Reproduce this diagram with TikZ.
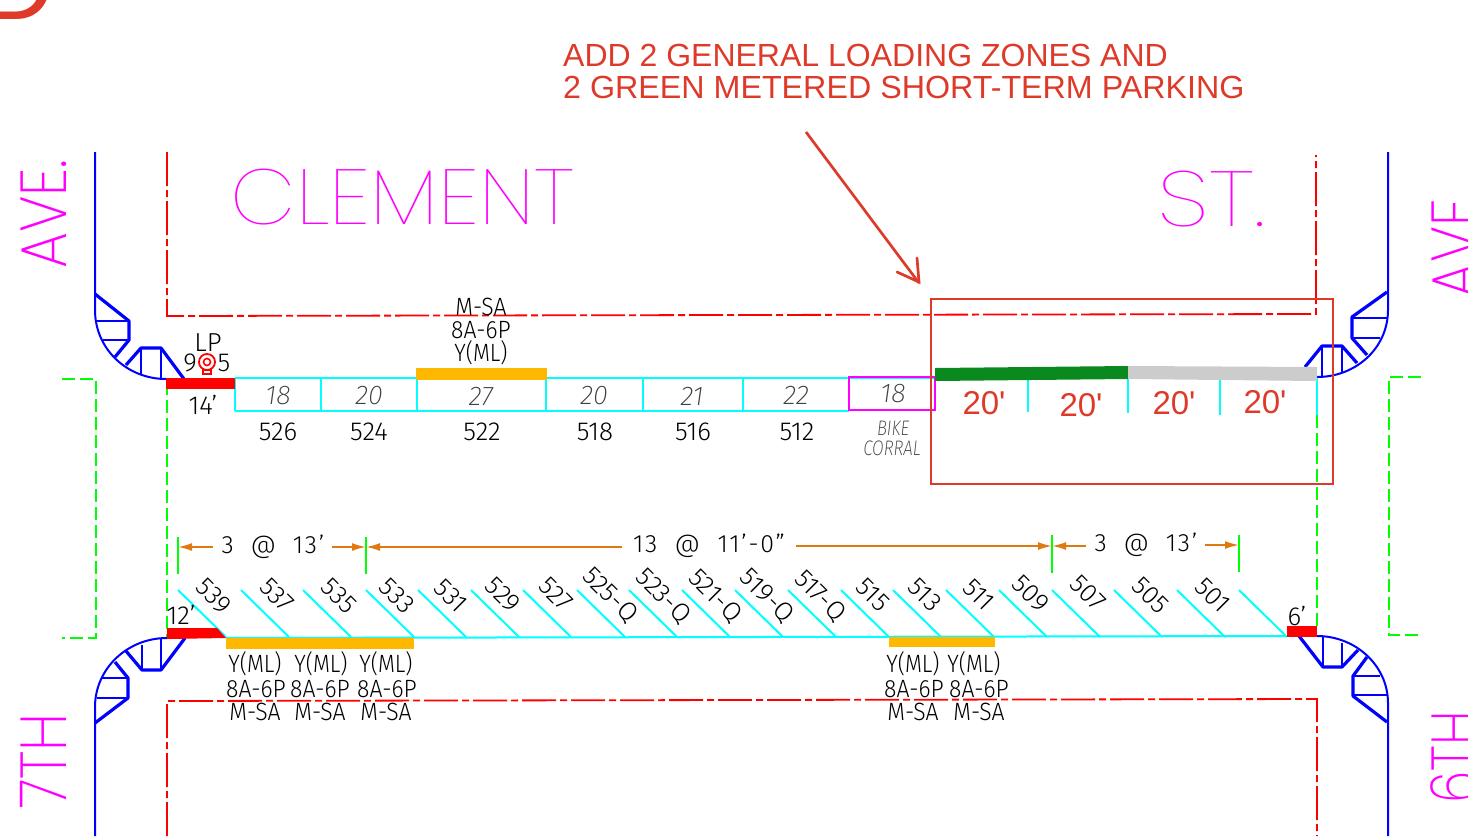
\documentclass[tikz,border=0pt]{standalone}
\usepackage{fontspec}
\usetikzlibrary{arrows.meta}
\setmainfont{Liberation Sans}
\newfontfamily\lenfont{Liberation Sans}
\newfontfamily\cadfont{Fira Sans Light}
\newfontfamily\handfont{Fira Sans ExtraLight}
\newfontfamily\streetfont{Poppins Thin}
\newfontfamily\avefont{Poppins ExtraLight}
\definecolor{annored}{HTML}{DE3A2A}
\definecolor{zoneyellow}{HTML}{FFB800}
\definecolor{zonegreen}{HTML}{0A8A1E}
\definecolor{zonegray}{HTML}{CCCCCC}
\definecolor{dimorange}{HTML}{DF7A10}
\definecolor{stallcyan}{HTML}{00FFFF}
\definecolor{streetpink}{HTML}{FF00FF}
\definecolor{kerbblue}{HTML}{0000FF}
\definecolor{lineredd}{HTML}{FF0000}
\definecolor{cuegreen}{HTML}{00FF00}
\tikzset{
	kerbline/.style={color=kerbblue, line width=2pt},
	rampthick/.style={color=kerbblue, line width=3.2pt, line join=round},
	rampthin/.style={color=kerbblue, line width=1.6pt},
	propline/.style={color=lineredd, line width=1.8pt, dash pattern=on 34pt off 4pt on 7pt off 4pt},
	cueline/.style={color=cuegreen, line width=1.8pt, dash pattern=on 13pt off 5pt},
	stallline/.style={color=stallcyan, line width=2pt},
	dimline/.style={color=dimorange, line width=1.8pt, -{Latex[length=14pt,width=8pt]}},
	dimtick/.style={color=cuegreen, line width=1.8pt},
	annotext/.style={color=annored, font=\fontsize{32}{32}\selectfont, inner sep=0pt},
	lentext/.style={color=annored, font=\lenfont\fontsize{33}{33}\selectfont, inner sep=0pt},
	annoline/.style={color=annored, line width=2.7pt},
	cadtext/.style={color=black, font=\cadfont\fontsize{26}{26}\selectfont, inner sep=0pt},
	signtext/.style={color=black, font=\cadfont\fontsize{25}{25}\selectfont, inner sep=0pt},
	dimtext/.style={color=black, font=\cadfont\addfontfeature{LetterSpace=7}\fontsize{25}{25}\selectfont, inner sep=0pt},
	sizetext/.style={color=black!75, font=\handfont\itshape\fontsize{27}{27}\selectfont, inner sep=0pt},
	corraltext/.style={color=black!75, font=\handfont\itshape\fontsize{21}{21}\selectfont, inner sep=0pt},
	streettext/.style={color=streetpink, font=\streetfont\fontsize{78}{78}\selectfont, inner sep=0pt},
	avetext/.style={color=streetpink, font=\avefont\fontsize{65}{65}\selectfont, inner sep=0pt, rotate=90, anchor=base}
}
\begin{document}
\begin{tikzpicture}[x=1pt,y=-1pt]
	%%%%% START %%%%%
	\useasboundingbox (0,0) rectangle (1468,836);
	\clip (0,0) rectangle (1468,836);

	\node[color=annored, font=\fontsize{100}{100}\selectfont, anchor=base west, inner sep=0pt] (sheetD) at (-18,19) {D};

	\node[annotext, anchor=west] (annoA) at (563,55) {ADD 2 GENERAL LOADING ZONES AND};
	\node[annotext, anchor=west] (annoB) at (563,87) {\scalebox{1.0075}[1]{2 GREEN METERED SHORT-TERM PARKING}};
	\draw[annoline] (806,132) -- (919,283);
	\draw[annoline, line cap=round] (897,272) -- (919,282) -- (917,258);

	% street names
	\node[streettext, anchor=base] (clement) at (402.5,224) {\scalebox{1.09}[1]{CLEMENT}};
	\node[streettext, anchor=base] (stname) at (1211.5,226) {\scalebox{1.23}[1]{ST.}};
	\node[avetext] (aveleft) at (66,214) {\scalebox{.88}[1]{AVE.}};
	\node[avetext] (sevenleft) at (66,761) {\scalebox{.88}[1]{7TH}};
	\node[avetext] (averight) at (1477,248.5) {\scalebox{.87}[1]{AVE}};
	\node[avetext] (sixright) at (1477,757.5) {\scalebox{.8}[1]{6TH}};

	% property lines
	\draw[propline] (167,152) -- (167,316) -- (1316,314) -- (1316,155);
	\draw[propline] (167,836) -- (167,701) -- (1317,699) -- (1317,836);
	\draw[cueline] (62,379) -- (96,379) -- (96,638) -- (62,638);
	\draw[cueline] (1421,377) -- (1389,377) -- (1389,635) -- (1421,635);
	\draw[cueline] (167,382) -- (167,638);
	\draw[cueline] (1317,415) -- (1317,628);

	% kerbs and ramps
	\draw[kerbline] (95,152) -- (95,310) .. controls (95,349) and (127,379) .. (166,379);
	\draw[rampthick] (95,294) -- (129,321) -- (129,340) -- (115,357);
	\draw[rampthin] (96,321) -- (129,321) (103,340) -- (129,340);
	\draw[rampthick] (126,365) -- (141,348) -- (161,348) -- (184,379);
	\draw[rampthin] (141,348) -- (141,375) (161,348) -- (161,379);

	\draw[kerbline] (1388,152) -- (1388,310) .. controls (1388,348) and (1356,377) .. (1317,377);
	\draw[rampthick] (1387,292) -- (1352,317) -- (1352,338) -- (1367,355);
	\draw[rampthin] (1352,318) -- (1387,318) (1352,338) -- (1380,338);
	\draw[rampthick] (1357,363) -- (1342,346) -- (1322,346) -- (1305,367);
	\draw[rampthin] (1342,346) -- (1342,372) (1322,346) -- (1322,377);

	\draw[kerbline] (95,836) -- (95,707) .. controls (95,669) and (127,638) .. (167,638);
	\draw[rampthick] (95,723) -- (128,698) -- (128,678) -- (115,662);
	\draw[rampthin] (97,698) -- (128,698) (102,678) -- (128,678);
	\draw[rampthick] (126,651) -- (142,670) -- (161,670) -- (185,638);
	\draw[rampthin] (142,670) -- (142,645) (161,670) -- (161,638);

	\draw[kerbline] (1388,836) -- (1388,703) .. controls (1388,666) and (1356,636) .. (1317,636);
	\draw[rampthick] (1387,722) -- (1353,696) -- (1353,676) -- (1367,657);
	\draw[rampthin] (1353,695) -- (1387,695) (1353,676) -- (1380,676);
	\draw[rampthick] (1358,650) -- (1342,667) -- (1323,667) -- (1299,636);
	\draw[rampthin] (1342,667) -- (1342,643) (1323,667) -- (1323,637);

	% north side spaces
	\draw[stallline] (235,378) -- (935,378);
	\draw[stallline] (235,411) -- (849,411);
	\foreach \sx in {235,321,417,546,643,743,849}
		\draw[stallline] (\sx,378) -- (\sx,411);
	\foreach \sx/\sy in {1028/412,1128/413,1220/415,1317/415}
		\draw[stallline] (\sx,378) -- (\sx,\sy);
	\draw[color=streetpink, line width=2pt] (849,377) rectangle (935,410);
	\fill[color=lineredd] (166,378) rectangle (235,389);
	\fill[color=zoneyellow] (416,368) rectangle (547,380);
	\fill[color=zonegreen] (935,368) -- (1128,366) -- (1128,379) -- (935,381) -- cycle;
	\fill[color=zonegray] (1128,366) -- (1317,367) -- (1317,381) -- (1128,379) -- cycle;
	\draw[annoline] (931,299) rectangle (1333,484);

	% south side spaces
	\draw[stallline] (226,638) -- (1287,636);
	\foreach \sx in {178,241,303,366,418,471,523,577,629,682,735,788,841,893,946,999,1052,1114,1177,1239}
		\draw[stallline] (\sx,590) -- (\sx+48,637);
	\fill[color=lineredd] (167,628) -- (217,628) -- (226,638) -- (167,639) -- cycle;
	\fill[color=lineredd] (1287,626) rectangle (1317,637);
	\fill[color=zoneyellow] (226,638) rectangle (414,649);
	\fill[color=zoneyellow] (889,637) rectangle (995,647);

	% dimensions
	\foreach \sx/\sa/\sb in {178/537/574,366/537/574,1052/535/573,1239/535/572}
		\draw[dimtick] (\sx,\sa) -- (\sx,\sb);
	\draw[dimline] (213,547) -- (178,547);
	\draw[dimline] (332,547) -- (366,547);
	\draw[dimline] (622,547) -- (366,547);
	\draw[dimline] (796,546) -- (1052,546);
	\draw[dimline] (1086,546) -- (1052,546);
	\draw[dimline] (1205,545) -- (1239,545);
	\node[dimtext] (dimA) at (273,547) {3~\hspace{8pt}@~\hspace{8pt}13’};
	\node[dimtext] (dimB) at (709,546) {13~~@~~11’-0”};
	\node[dimtext] (dimC) at (1146,545) {3~\hspace{8pt}@~\hspace{8pt}13’};

	% address labels
	\foreach \lx/\lt in {278/526,369/524,482/522,595/518,693/516,797/512}
		\node[cadtext] (addr\lt) at (\lx,432) {\lt};
	\foreach \lx/\ly/\lt [count=\li] in {278/396/18,369/396/20,481/396/27,594/396/20,692/396/21,796/395/22,893/394/18}
		\node[sizetext] (size\li) at (\lx,\ly) {\lt};
	\node[corraltext] (bike) at (893,428) {\scalebox{.8}[1]{BIKE}};
	\node[corraltext] (corral) at (892,448) {\scalebox{.8}[1]{CORRAL}};
	\foreach \lx/\ly/\lt in {214/596/539,277/595/537,339/596/535,397/596/533,451/596/531,503/595/529,556/594/527,610/595/525-Q,663/596/523-Q,715/596/521-Q,767/596/519-Q,820/596/517-Q,873/595/515,925/595/513,979/595/511,1031/594/509,1088/593/507,1151/595/505,1213/595/501}
		\node[cadtext, rotate=-45] (stall\lt) at (\lx,\ly) {\lt};

	\node[lentext] (lenA) at (984,403) {20'};
	\node[lentext] (lenB) at (1081,405) {20'};
	\node[lentext] (lenC) at (1174,403) {20'};
	\node[lentext] (lenD) at (1265,402) {20'};

	% meter and zone labels
	\node[cadtext] (lpname) at (208,343) {LP};
	\node[cadtext] (lpnine) at (190,363) {9};
	\node[cadtext] (lpfive) at (224,363) {5};
	\draw[color=lineredd, line width=1.8pt] (207,362) circle (8);
	\draw[color=lineredd, line width=1.6pt] (207,362) circle (3.5);
	\draw[color=lineredd, line width=1.5pt] (203,370) rectangle (211,374);
	\node[cadtext] (fourteen) at (203,405) {14’};
	\node[cadtext] (twelve) at (181,615) {12’};
	\node[cadtext] (sixft) at (1297,616) {6’};
	\node[signtext] (topdays) at (481,307) {\scalebox{.92}[1]{M-SA}};
	\node[signtext] (tophours) at (481,330) {\scalebox{.92}[1]{8A-6P}};
	\node[signtext] (topzone) at (481,353) {\scalebox{.88}[1]{Y(ML)}};
	\foreach \lx/\hx/\dx in {255/256/255,321/320/320,386/387/386,913/914/913,974/979/979} {
		\node[signtext] (zone\lx) at (\lx,664) {\scalebox{.88}[1]{Y(ML)}};
		\node[signtext] (hours\lx) at (\hx,689) {\scalebox{.92}[1]{8A-6P}};
		\node[signtext] (days\lx) at (\dx,712) {\scalebox{.92}[1]{M-SA}};
	}
	%%%%% END %%%%%
\end{tikzpicture}
\end{document}
